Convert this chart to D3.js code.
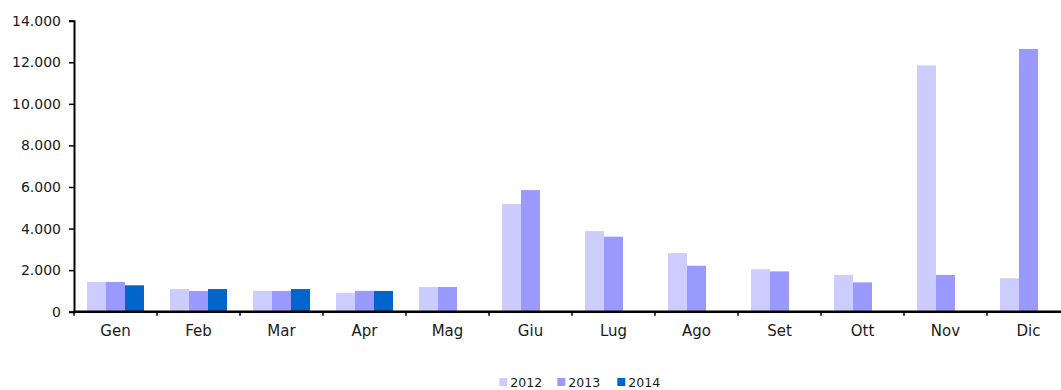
<!DOCTYPE html>
<html>
<head>
<meta charset="utf-8">
<script src="https://cdn.jsdelivr.net/npm/d3@7"></script>
<style>
  html, body { margin: 0; padding: 0; background: #fff; }
  svg { display: block; }
  text { font-family: "DejaVu Sans", sans-serif; fill: #1a1a1a; }
</style>
</head>
<body>
<svg id="chart" width="1061" height="390"></svg>
<script>
// Monthly values per year
const months = ["Gen", "Feb", "Mar", "Apr", "Mag", "Giu", "Lug", "Ago", "Set", "Ott", "Nov", "Dic"];
const years = ["2012", "2013", "2014"];
const values2012 = [1430, 1090, 1000, 910, 1190, 5180, 3880, 2820, 2040, 1770, 11850, 1610];
const values2013 = [1430, 1000, 1000, 1000, 1190, 5850, 3610, 2210, 1940, 1410, 1770, 12640];
const values2014 = [1270, 1090, 1090, 1000, null, null, null, null, null, null, null, null];
const yTicks = [0, 2000, 4000, 6000, 8000, 10000, 12000, 14000];
const colors = ["#CCCCFF", "#9999FF", "#0066CC"];

const series = [values2012, values2013, values2014];

const svg = d3.select("#chart");
const plotLeft = 74, plotRight = 1070, plotTop = 20.7, plotBottom = 311.7;

const x = d3.scaleBand().domain(months).range([plotLeft, plotRight]).paddingInner(0).paddingOuter(0);
const inner = d3.scaleBand().domain(years)
  .range([0, x.bandwidth()]).paddingInner(0).paddingOuter(0.684);
const y = d3.scaleLinear().domain([0, 14000]).range([plotBottom, plotTop]);

const fmt = v => d3.format(",")(v).replace(/,/g, ".");

// Bars
const groups = svg.append("g").selectAll("g")
  .data(months)
  .join("g")
  .attr("transform", d => `translate(${x(d)},0)`);

groups.selectAll("rect")
  .data((m, i) => years.map((yr, k) => ({ yr, k, v: series[k][i] })).filter(d => d.v != null))
  .join("rect")
  .attr("x", d => inner(d.yr))
  .attr("width", inner.bandwidth())
  .attr("y", d => y(d.v))
  .attr("height", d => y(0) - y(d.v))
  .attr("fill", d => colors[d.k]);

// Y axis
const yAxis = svg.append("g")
  .attr("transform", `translate(${plotLeft},0)`)
  .call(d3.axisLeft(y).tickValues(yTicks).tickFormat(fmt).tickSize(5).tickPadding(8));
yAxis.select(".domain").attr("stroke", "#000").attr("stroke-width", 2);
yAxis.selectAll(".tick line").attr("stroke", "#000").attr("stroke-width", 1.5);
yAxis.selectAll("text").style("font-size", "14px").style("font-family", "DejaVu Sans").attr("fill", "#1a1a1a");

// X axis with ticks at category boundaries
const xAxis = svg.append("g").attr("transform", `translate(0,${plotBottom})`);
xAxis.append("line")
  .attr("x1", plotLeft).attr("x2", plotRight)
  .attr("stroke", "#000").attr("stroke-width", 2.5);
xAxis.selectAll(".bt")
  .data(months)
  .join("line")
  .attr("class", "bt")
  .attr("x1", d => x(d)).attr("x2", d => x(d))
  .attr("y1", 0).attr("y2", 4)
  .attr("stroke", "#000").attr("stroke-width", 1.5);
xAxis.selectAll(".lbl")
  .data(months)
  .join("text")
  .attr("class", "lbl")
  .attr("x", d => x(d) + x.bandwidth() / 2)
  .attr("y", 24.5)
  .attr("text-anchor", "middle")
  .style("font-size", "15px")
  .text(d => d);

// Legend
const legendItems = [
  { yr: "2012", sx: 499.3 },
  { yr: "2013", sx: 557.3 },
  { yr: "2014", sx: 617.3 }
];
const legend = svg.append("g");
legend.selectAll("rect")
  .data(legendItems)
  .join("rect")
  .attr("x", d => d.sx).attr("y", 378)
  .attr("width", 8).attr("height", 8)
  .attr("fill", (d, i) => colors[i]);
legend.selectAll("text")
  .data(legendItems)
  .join("text")
  .attr("x", d => d.sx + 11)
  .attr("y", 387)
  .style("font-size", "12.5px")
  .text(d => d.yr);
</script>
</body>
</html>
